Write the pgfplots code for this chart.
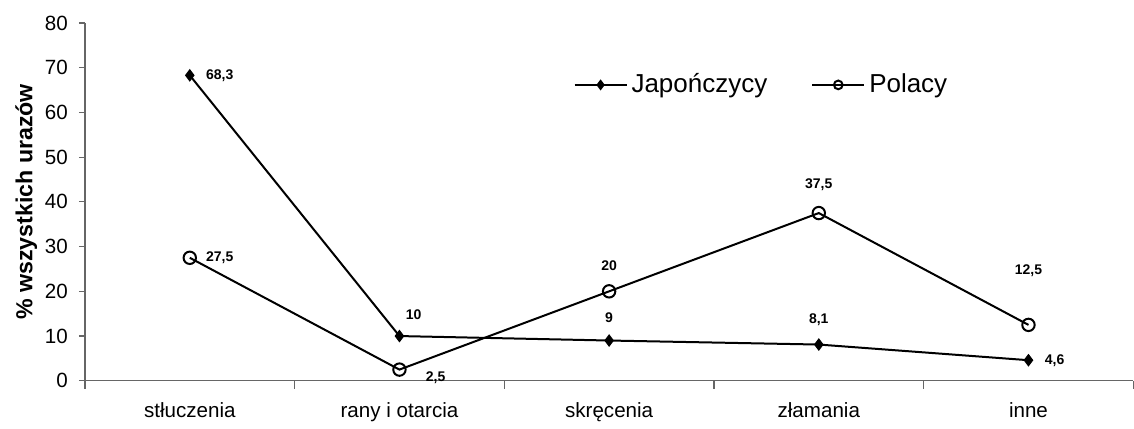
\documentclass[border=0pt]{standalone}
\usepackage{pgfplots}
\pgfplotsset{compat=1.18}
\usepackage{fontspec}
\setmainfont{Liberation Sans}
\begin{document}
\begin{tikzpicture}
\begin{axis}[
  scale only axis,
  width=524.5pt, height=179pt,
  xmin=-0.5, xmax=4.5,
  ymin=0, ymax=80,
  axis x line=bottom, axis y line=left,
  axis line style={-, draw=gray!80!black, line width=0.7pt},
  xtick={0,1,2,3,4},
  xticklabels={stłuczenia,rany i otarcia,skręcenia,złamania,inne},
  major x tick style={draw=none},
  minor xtick={-0.5,0.5,1.5,2.5,3.5,4.5},
  minor x tick style={draw=gray!80!black, line width=0.6pt},
  minor tick length=4pt,
  xtick align=outside,
  ytick={0,10,...,80},
  ytick align=outside,
  major y tick style={draw=gray!80!black, line width=0.6pt},
  major tick length=3pt,
  tick label style={font=\fontsize{10.3pt}{12pt}\selectfont},
  /pgf/number format/assume math mode=true,
  xticklabel style={yshift=-4.5pt},
  yticklabel style={xshift=-2pt},
  ylabel={\bfseries\% wszystkich urazów},
  ylabel style={font=\fontsize{11.6pt}{13pt}\selectfont, yshift=-3pt},
  legend style={draw=none, fill=none, at={(0.46,0.827)}, anchor=west,
    legend columns=2, font=\fontsize{13pt}{15pt}\selectfont,
    /tikz/every even column/.append style={column sep=20pt}},
  legend image code/.code={
    \draw[#1, mark repeat=2, mark phase=2, mark options={scale=0.7}] plot coordinates {(0pt,0pt) (13pt,0pt) (26pt,0pt)};},
  clip=false,
]
\addplot[black, line width=1pt, mark=diamond*, mark size=2.8pt, mark options={fill=black, line width=0.5pt}]
  coordinates {(0,68.3) (1,10) (2,9) (3,8.1) (4,4.6)};
\addlegendentry{Japończycy}
\addplot[black, line width=1pt, mark=o, mark size=3.1pt, mark options={fill=white, line width=1pt}]
  coordinates {(0,27.5) (1,2.5) (2,20) (3,37.5) (4,12.5)};
\addlegendentry{Polacy}
\tikzset{dl/.style={font=\bfseries\fontsize{7pt}{8pt}\selectfont, inner sep=0pt}}
\node[dl, anchor=west] at ([xshift=8pt]axis cs:0,68.3) {68,3};
\node[dl, anchor=west] at ([xshift=8pt]axis cs:0,27.5) {27,5};
\node[dl, anchor=south west] at ([xshift=3pt, yshift=8pt]axis cs:1,10) {10};
\node[dl, anchor=west] at ([xshift=13pt, yshift=-4pt]axis cs:1,2.5) {2,5};
\node[dl, anchor=south] at ([yshift=10pt]axis cs:2,20) {20};
\node[dl, anchor=south] at ([yshift=9pt]axis cs:2,9) {9};
\node[dl, anchor=south] at ([yshift=11pt]axis cs:3,37.5) {37,5};
\node[dl, anchor=south] at ([yshift=9pt]axis cs:3,8.1) {8,1};
\node[dl, anchor=south] at ([yshift=24pt]axis cs:4,12.5) {12,5};
\node[dl, anchor=west] at ([xshift=8pt]axis cs:4,4.6) {4,6};
\end{axis}
\path[use as bounding box] (-42.5pt,-20pt) rectangle (524.5pt,190.5pt);
\end{tikzpicture}
\end{document}
